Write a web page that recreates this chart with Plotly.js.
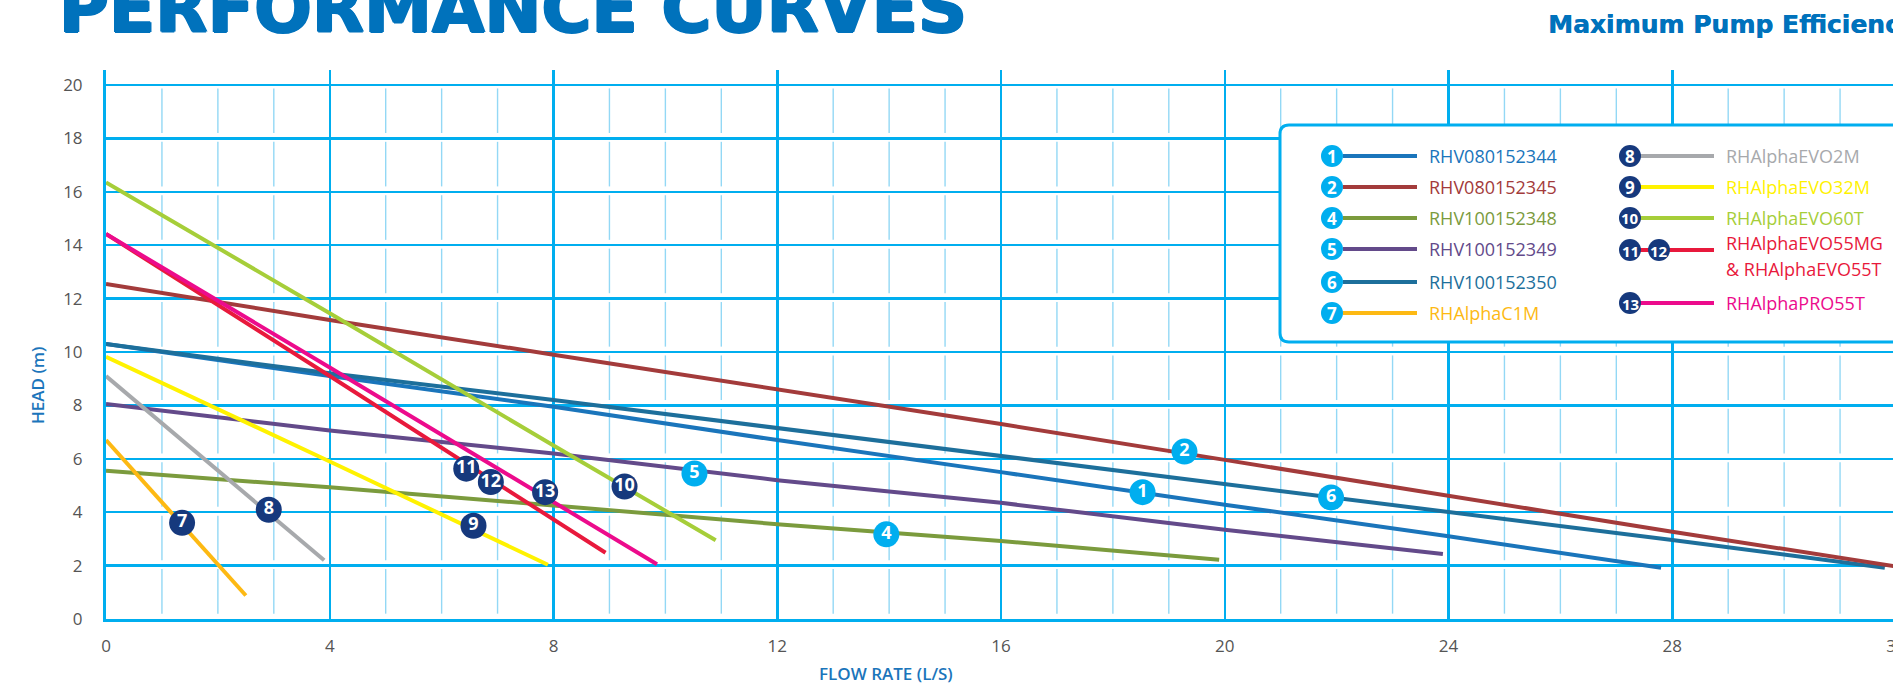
<!DOCTYPE html>
<html><head><meta charset="utf-8">
<script src="https://cdn.plot.ly/plotly-3.0.1.min.js"></script>
<style>html,body{margin:0;padding:0;overflow:hidden;background:#fff}#chart{width:1896px;height:686px}</style>
</head><body><div id="chart"></div>
<script>
// ---------- data ----------
const xTicks = [0, 4, 8, 12, 16, 20, 24, 28, 32];
const yTicks = [0, 2, 4, 6, 8, 10, 12, 14, 16, 18, 20];
const xMinor = [1, 2, 3, 5, 6, 7, 9, 10, 11, 13, 14, 15, 17, 18, 19, 21, 22, 23, 25, 26, 27, 29, 30, 31];

const seriesNames = ['RHV080152344', 'RHV080152345', 'RHV100152348', 'RHV100152349', 'RHV100152350',
  'RHAlphaC1M', 'RHAlphaEVO2M', 'RHAlphaEVO32M', 'RHAlphaEVO60T', 'RHAlphaEVO55MG & RHAlphaEVO55T', 'RHAlphaPRO55T'];

const flow1 = [0, 4, 8, 12, 16, 20, 24, 27.8];
const head1 = [10.3, 9.1, 7.95, 6.7, 5.5, 4.28, 3.1, 1.92];
const flow2 = [0, 4, 8, 12, 16, 20, 24, 28, 32];
const head2 = [12.55, 11.2, 9.9, 8.6, 7.3, 5.96, 4.61, 3.27, 1.97];
const flow4 = [0, 4, 8, 12, 16, 19.9];
const head4 = [5.55, 4.93, 4.25, 3.55, 2.92, 2.22];
const flow5 = [0, 4, 8, 12, 16, 20, 23.9];
const head5 = [8.05, 7.06, 6.2, 5.2, 4.35, 3.34, 2.43];
const flow6 = [0, 4, 8, 12, 16, 20, 24, 28, 31.8];
const head6 = [10.3, 9.2, 8.2, 7.15, 6.1, 5.03, 3.99, 2.96, 1.92];
const flow7 = [0, 2.5];
const head7 = [6.7, 0.88];
const flow8 = [0, 3.9];
const head8 = [9.1, 2.2];
const flow9 = [0, 4, 7.9];
const head9 = [9.82, 5.9, 2.03];
const flow10 = [0, 4, 8, 10.9];
const head10 = [16.35, 11.45, 6.5, 2.95];
const flow11 = [0, 4, 8.93];
const head11 = [14.42, 9.1, 2.48];
const flow13 = [0, 4, 9.85];
const head13 = [14.42, 9.42, 2.05];

const labelNums = ['1', '2', '4', '5', '6', '7', '8', '9', '10', '11', '12', '13'];
const labelFlow = [18.53, 19.28, 13.95, 10.52, 21.9, 1.36, 2.91, 6.57, 9.27, 6.44, 6.88, 7.85];
const labelHead = [4.75, 6.27, 3.17, 5.45, 4.55, 3.6, 4.09, 3.49, 4.96, 5.63, 5.13, 4.75];

const legendNums = ['1', '2', '4', '5', '6', '7', '8', '9', '10', '11 12', '13'];

// ---------- styles ----------
const seriesColors = ['#1A75BB', '#A33B3B', '#7B9B3D', '#634A8A', '#1D6F9B',
  '#FDB913', '#A7A9AC', '#FFF200', '#A6CE39', '#E8193C', '#EC0B8C'];
const CYAN = '#00AEEF', NAVY = '#16397D', BLUE = '#0072BC', MINOR = '#93D8F5';

const flows = [flow1, flow2, flow4, flow5, flow6, flow7, flow8, flow9, flow10, flow11, flow13];
const heads = [head1, head2, head4, head5, head6, head7, head8, head9, head10, head11, head13];

const W = 1896, H = 686, L = 106, R = 0, T = 70, B = 67;
const plotW = W - L - R, plotH = H - T - B;
const px = p => (p - L) / plotW;
const py = p => (H - B - p) / plotH;

const traces = [];

// minor vertical grid, broken near the major horizontal lines
const gx = [], gy = [];
xMinor.forEach(xv => {
  for (let k = 0; k < yTicks.length - 1; k++) {
    gx.push(xv, xv, null);
    gy.push(yTicks[k] + 0.2, yTicks[k + 1] - 0.13, null);
  }
});
traces.push({type: 'scatter', mode: 'lines', x: gx, y: gy, line: {color: MINOR, width: 1.4},
  hoverinfo: 'skip', connectgaps: false});

const drawOrder = [0, 4, 1, 3, 2, 5, 6, 7, 8, 9, 10];
drawOrder.forEach(i => {
  traces.push({
    type: 'scatter', mode: 'lines', x: flows[i], y: heads[i], name: seriesNames[i],
    line: {color: seriesColors[i], width: 4}, hoverinfo: 'skip', cliponaxis: false
  });
});
traces.push({
  type: 'scatter', mode: 'markers+text', x: labelFlow, y: labelHead, text: labelNums,
  textposition: 'middle center', cliponaxis: false, hoverinfo: 'skip',
  marker: {size: 26, color: labelNums.map(n => (+n <= 6 ? CYAN : NAVY)), line: {width: 0}},
  textfont: {family: 'Open Sans', size: 18, color: '#ffffff', weight: 700}
});

// ---------- legend (custom) ----------
const shapes = [];
const annotations = [];
const bx0 = 1280, by0 = 125, bx1 = 1910, by1 = 342, rr = 9;
shapes.push({
  type: 'path', xref: 'paper', yref: 'paper', layer: 'above',
  path: `M ${px(bx1)} ${py(by0)} L ${px(bx0 + rr)} ${py(by0)} Q ${px(bx0)} ${py(by0)} ${px(bx0)} ${py(by0 + rr)} ` +
        `L ${px(bx0)} ${py(by1 - rr)} Q ${px(bx0)} ${py(by1)} ${px(bx0 + rr)} ${py(by1)} L ${px(bx1)} ${py(by1)} Z`,
  fillcolor: '#ffffff', line: {color: CYAN, width: 3}
});
const col1Rows = [156, 187, 218, 249, 282, 313];
const col2Rows = [156, 187, 218, 250, 303];
const items = [];
for (let i = 0; i < 6; i++) items.push({idx: i, cx: 1332, lx0: 1343, lx1: 1417, tx: 1430, y: col1Rows[i], fill: CYAN});
for (let i = 0; i < 5; i++) items.push({idx: 6 + i, cx: 1630, lx0: 1640, lx1: 1714, tx: 1727, y: col2Rows[i], fill: NAVY});
items.forEach(it => {
  const c = seriesColors[it.idx];
  shapes.push({type: 'line', xref: 'paper', yref: 'paper', layer: 'above',
    x0: px(it.lx0), x1: px(it.lx1), y0: py(it.y), y1: py(it.y), line: {color: c, width: 4}});
  const nums = legendNums[it.idx].split(' ');
  nums.forEach((n, k) => {
    const cx = it.cx + k * 29;
    shapes.push({type: 'circle', xref: 'paper', yref: 'paper', layer: 'above',
      xsizemode: 'pixel', ysizemode: 'pixel', xanchor: px(cx), yanchor: py(it.y),
      x0: -11, x1: 11, y0: -11, y1: 11, fillcolor: it.fill, line: {width: 0}});
    annotations.push({xref: 'paper', yref: 'paper', x: px(cx), y: py(it.y + 0.5), text: n, showarrow: false,
      xanchor: 'center', yanchor: 'middle', font: {family: 'Open Sans', size: n.length > 1 ? 15 : 17, color: '#ffffff', weight: 700}});
  });
  const name = seriesNames[it.idx];
  if (name.indexOf(' & ') > 0) {
    const parts = name.split(' & ');
    annotations.push({xref: 'paper', yref: 'paper', x: px(it.tx - 3), y: py(it.y - 7), text: parts[0], showarrow: false,
      xanchor: 'left', yanchor: 'middle', font: {family: 'Open Sans', size: 18, color: c}});
    annotations.push({xref: 'paper', yref: 'paper', x: px(it.tx - 3), y: py(it.y + 19), text: '& ' + parts[1], showarrow: false,
      xanchor: 'left', yanchor: 'middle', font: {family: 'Open Sans', size: 18, color: c}});
  } else {
    annotations.push({xref: 'paper', yref: 'paper', x: px(it.tx - 3), y: py(it.y), text: name, showarrow: false,
      xanchor: 'left', yanchor: 'middle', font: {family: 'Open Sans', size: 18, color: c}});
  }
});

// ---------- titles ----------
const heavy = c => `1.2px 0 0 ${c}, -1.2px 0 0 ${c}, 0 1px 0 ${c}, 0 -1px 0 ${c}`;
annotations.push({xref: 'paper', yref: 'paper', x: px(57), y: py(8), text: 'PERFORMANCE CURVES', showarrow: false,
  xanchor: 'left', yanchor: 'middle', font: {family: 'DejaVu Sans', size: 68, color: BLUE, weight: 700, shadow: heavy(BLUE)}});
annotations.push({xref: 'paper', yref: 'paper', x: px(1546), y: py(25), text: 'Maximum Pump Efficiency', showarrow: false,
  xanchor: 'left', yanchor: 'middle', font: {family: 'DejaVu Sans', size: 25, color: BLUE, weight: 700, shadow: `0.5px 0 0 ${BLUE}`}});
annotations.push({xref: 'paper', yref: 'paper', x: px(37), y: py(386), text: 'HEAD (m)', textangle: -90, showarrow: false,
  xanchor: 'center', yanchor: 'middle', font: {family: 'Open Sans', size: 17, color: '#1B75BB', weight: 600}});
annotations.push({xref: 'paper', yref: 'paper', x: px(886), y: py(673), text: 'FLOW RATE (L/S)', showarrow: false,
  xanchor: 'center', yanchor: 'middle', font: {family: 'Open Sans', size: 17, color: '#1B75BB', weight: 600}});

const layout = {
  width: W, height: H,
  margin: {l: L, r: R, t: T, b: B, pad: 0},
  paper_bgcolor: '#ffffff', plot_bgcolor: '#ffffff',
  showlegend: false,
  xaxis: {
    range: [0, 32], tickmode: 'array', tickvals: xTicks, ticktext: xTicks.map(String),
    showgrid: true, gridcolor: CYAN, gridwidth: 2.5,
    showline: true, linecolor: CYAN, linewidth: 3, zeroline: false, ticks: '',
    ticklabelstandoff: 10, ticklabeloverflow: 'allow',
    tickfont: {family: 'Open Sans', size: 17, color: '#555555'}, fixedrange: true
  },
  yaxis: {
    range: [0, 20.56], tickmode: 'array', tickvals: yTicks, ticktext: yTicks.map(String),
    showgrid: true, gridcolor: CYAN, gridwidth: 2.5,
    showline: true, linecolor: CYAN, linewidth: 3, zeroline: false, ticks: '',
    ticklabelstandoff: 17,
    tickfont: {family: 'Open Sans', size: 17, color: '#555555'}, fixedrange: true
  },
  shapes: shapes,
  annotations: annotations
};

Plotly.newPlot('chart', traces, layout, {staticPlot: true, displayModeBar: false});
</script>
</body></html>
